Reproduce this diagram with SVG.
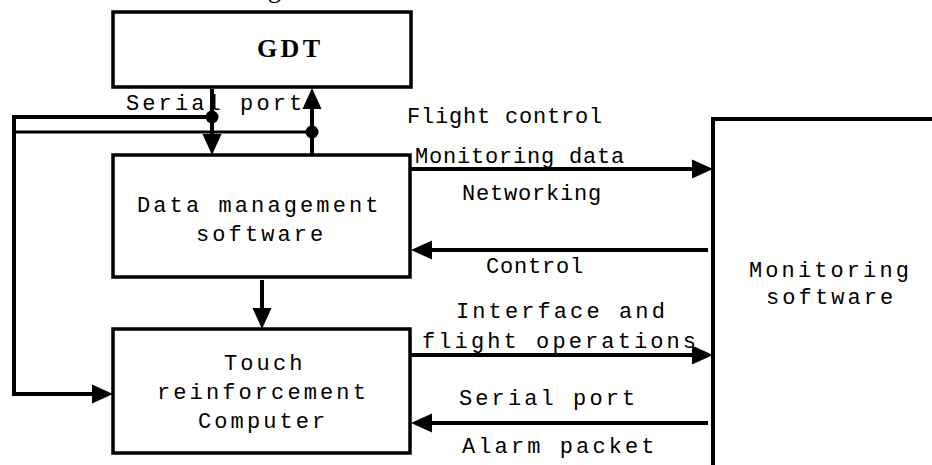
<svg xmlns="http://www.w3.org/2000/svg" width="932" height="465" viewBox="0 0 932 465">
  <style>
    .box { fill: #fff; stroke: #000; stroke-width: 3.5; }
    .edge { fill: none; stroke: #000; stroke-width: 4; }
    .bus { fill: none; stroke: #000; stroke-width: 3; }
    .lbl { font-family: "Liberation Mono", "DejaVu Sans Mono", monospace; font-size: 22px; fill: #000; letter-spacing: 3.1px; }
    .lbl.tight { letter-spacing: 0.8px; }
    .title { font-family: "Liberation Serif", "Times New Roman", serif; font-weight: bold; font-size: 26px; fill: #000; }
  </style>
  <defs>
    <marker id="arrow" markerUnits="userSpaceOnUse" markerWidth="24" markerHeight="22" refX="10" refY="10" orient="auto">
      <path d="M0,0.5 L21,10 L0,19.5 z" fill="#000"/>
    </marker>
  </defs>

  <rect width="932" height="465" fill="#fff"/>

  <!-- caption descender clipped at the top edge -->
  <text x="268" y="-2" class="title" style="font-weight:normal">g</text>

  <!-- nodes -->
  <g id="gdt">
    <rect class="box" x="113" y="12" width="298" height="75"/>
    <text class="title" x="257" y="57" textLength="63" lengthAdjust="spacing">GDT</text>
  </g>

  <g id="data-management">
    <rect class="box" x="113" y="155" width="297" height="122"/>
    <text class="lbl" x="137" y="212">Data management</text>
    <text class="lbl" x="196" y="241">software</text>
  </g>

  <g id="touch-computer">
    <rect class="box" x="113" y="329" width="297" height="124"/>
    <text class="lbl" x="224" y="370">Touch</text>
    <text class="lbl" x="157" y="399">reinforcement</text>
    <text class="lbl" x="198" y="428">Computer</text>
  </g>

  <g id="monitoring">
    <path class="edge" d="M936,119 H713 V470"/>
    <text class="lbl" x="749" y="277">Monitoring</text>
    <text class="lbl" x="766" y="304">software</text>
  </g>

  <!-- connectors -->
  <g id="connectors">
    <!-- serial port bus between GDT and data management -->
    <path class="edge" d="M212,89 V144" marker-end="url(#arrow)"/>
    <path class="edge" d="M312,155 V99" marker-end="url(#arrow)"/>
    <path class="edge" d="M212,117 H14 V394 H102" marker-end="url(#arrow)"/>
    <path class="bus" d="M14,132 H312"/>
    <circle cx="212" cy="117" r="6.5" fill="#000"/>
    <circle cx="312" cy="132" r="6.5" fill="#000"/>

    <!-- data management to touch computer -->
    <path class="edge" d="M262,280 V318" marker-end="url(#arrow)"/>

    <!-- links to monitoring software -->
    <path class="edge" d="M410,169 H702" marker-end="url(#arrow)"/>
    <path class="edge" d="M708,250 H422" marker-end="url(#arrow)"/>
    <path class="edge" d="M410,355 H702" marker-end="url(#arrow)"/>
    <path class="edge" d="M708,423 H422" marker-end="url(#arrow)"/>
  </g>

  <!-- connector labels -->
  <g id="labels">
    <text class="lbl" x="126" y="110">Serial port</text>
    <text class="lbl tight" x="407" y="123">Flight control</text>
    <text class="lbl tight" x="415" y="163">Monitoring data</text>
    <text class="lbl tight" x="462" y="200">Networking</text>
    <text class="lbl tight" x="486" y="273">Control</text>
    <text class="lbl" x="456" y="318">Interface and</text>
    <text class="lbl" x="422" y="348">flight operations</text>
    <text class="lbl" x="459" y="405">Serial port</text>
    <text class="lbl" x="462" y="453">Alarm packet</text>
  </g>
</svg>
